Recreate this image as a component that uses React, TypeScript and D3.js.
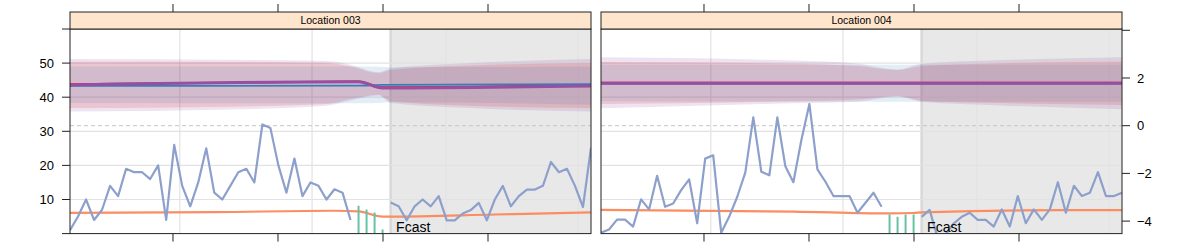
import React, { useRef, useEffect } from "react";
import * as d3 from "d3";

// ---- data ----
const panelNames = ["Location 003", "Location 004"];
const forecastStart = 40;
const lastIndex = 65;
const xTickIdx = [12.85, 25.95, 39.05, 52.15];
const xGridIdx = [13.7, 30.2, 46.9, 63.4];
const leftTicks = [0, 10, 20, 30, 40, 50, 60];
const leftLabels = [10, 20, 30, 40, 50];
const rightTicks = [-4, -2, 0, 2, 4];
const rightLabels = [-4, -2, 0, 2];
const refLine = 0;

const obs003 = [1, 5, 10, 4, 7, 14, 11, 19, 18, 18, 16, 20, 4, 26, 14, 8, 15, 25, 12, 10,
  14, 18, 19, 15, 32, 31, 20, 12, 22, 11, 15, 14, 10, 13, 12, 4,
  null, null, null, null,
  9.1, 8, 3.9, 8, 10, 8, 11, 3.9, 3.9, 5.9, 6.9, 9, 3.9, 10, 14, 8, 11, 12.9, 12.9, 14,
  21, 18, 19, 14, 7.8, 25.2];
const obs004 = [-4.49, -4.35, -3.94, -3.94, -4.23, -3.09, -3.51, -2.1, -3.4, -3.26,
  -2.7, -2.25, -4.09, -1.38, -1.24, -4.49, -3.81, -2.98, -1.97, 0.35,
  -1.93, -2.08, 0.35, -1.7, -2.37, -0.6, 0.91, -1.83, -2.35, -2.95,
  -2.95, -2.95, -3.65, -3.23, -2.81, -3.4,
  null, null, null, null,
  -3.82, -3.53, -4.7, -4.55, -4.1, -3.82, -3.65, -3.95, -3.95, -4.23,
  -3.51, -4.23, -2.95, -4.09, -3.51, -3.95, -3.51, -2.37, -3.65, -2.52,
  -2.95, -2.81, -1.95, -2.95, -2.95, -2.81];

const trend003 = [{ i: 0, v: 6.1 }, { i: 18, v: 6.3 }, { i: 33, v: 6.7 }, { i: 36, v: 6.5 },
  { i: 39, v: 5.0 }, { i: 40, v: 5.0 }, { i: 53, v: 5.6 }, { i: 65, v: 6.2 }];
const trend004 = [{ i: 0, v: -3.53 }, { i: 24, v: -3.6 }, { i: 36, v: -3.68 }, { i: 39, v: -3.66 },
  { i: 40, v: -3.63 }, { i: 57, v: -3.54 }, { i: 65, v: -3.54 }];

const bars003 = [{ i: 36, v: 8.2 }, { i: 37, v: 7.1 }, { i: 38, v: 6.2 }, { i: 39, v: 1.2 }];
const bars004 = [{ i: 36, v: -3.72 }, { i: 37, v: -3.82 }, { i: 38, v: -3.72 }, { i: 39, v: -3.72 }];

const purpleBand003 = [{ i: 0, lo: 35.8, hi: 51.2 }, { i: 20, lo: 36.4, hi: 51.0 }, { i: 32, lo: 37.5, hi: 50.6 },
  { i: 35, lo: 39.0, hi: 49.5 }, { i: 38.5, lo: 40.5, hi: 47.3 }, { i: 40, lo: 38.3, hi: 48.4 },
  { i: 50, lo: 36.8, hi: 50.0 }, { i: 65, lo: 35.8, hi: 51.2 }];
const redBand003 = [{ i: 0, lo: 36.8, hi: 50.4 }, { i: 20, lo: 37.2, hi: 50.3 }, { i: 32, lo: 38.0, hi: 50.0 },
  { i: 35, lo: 39.5, hi: 49.0 }, { i: 38.5, lo: 40.7, hi: 47.1 }, { i: 40, lo: 38.8, hi: 48.0 },
  { i: 50, lo: 37.5, hi: 49.3 }, { i: 65, lo: 36.8, hi: 50.0 }];
const blueBand003 = [{ i: 0, lo: 38.3, hi: 49.0 }, { i: 36, lo: 38.2, hi: 49.0 }, { i: 38.5, lo: 38.3, hi: 48.9 },
  { i: 40, lo: 38.5, hi: 48.8 }, { i: 65, lo: 37.8, hi: 48.9 }];
const purpleLine003 = [{ i: 0, v: 43.6 }, { i: 36, v: 44.5 }, { i: 39, v: 42.7 }, { i: 65, v: 43.3 }];
const redLine003 = [{ i: 0, v: 43.8 }, { i: 36, v: 44.6 }, { i: 39, v: 42.9 }, { i: 65, v: 43.5 }];
const blueLine003 = [{ i: 0, v: 43.3 }, { i: 36, v: 43.4 }, { i: 39, v: 43.6 }, { i: 65, v: 43.8 }];

const purpleBand004 = [{ i: 0, lo: 0.73, hi: 2.87 }, { i: 24, lo: 0.94, hi: 2.73 }, { i: 32, lo: 1.0, hi: 2.6 },
  { i: 37, lo: 1.22, hi: 2.36 }, { i: 40, lo: 1.0, hi: 2.6 }, { i: 50, lo: 0.85, hi: 2.75 }, { i: 65, lo: 0.69, hi: 2.87 }];
const redBand004 = [{ i: 0, lo: 0.91, hi: 2.67 }, { i: 24, lo: 1.02, hi: 2.6 }, { i: 32, lo: 1.1, hi: 2.5 },
  { i: 37, lo: 1.25, hi: 2.33 }, { i: 40, lo: 1.05, hi: 2.5 }, { i: 50, lo: 0.95, hi: 2.62 }, { i: 65, lo: 0.87, hi: 2.68 }];
const blueBand004 = [{ i: 0, lo: 1.02, hi: 2.55 }, { i: 37, lo: 1.0, hi: 2.55 }, { i: 65, lo: 1.0, hi: 2.56 }];
const purpleLine004 = [{ i: 0, v: 1.78 }, { i: 65, v: 1.78 }];
const redLine004 = [{ i: 0, v: 1.8 }, { i: 65, v: 1.8 }];
const blueLine004 = [{ i: 0, v: 1.77 }, { i: 65, v: 1.77 }];

const W = 1200;
const H = 245;
const panelX = [70, 601];
const panelW = 521;
const stripTop = 12;
const plotTop = 29;
const plotBottom = 233.6;
const FONT = "'Liberation Sans', Arial, Helvetica, sans-serif";

const App = () => {
  const chartRef = useRef<HTMLDivElement>(null);

  useEffect(() => {
    const yL = d3.scaleLinear().domain([0, 60]).range([plotBottom, plotTop]);
    const yR = d3.scaleLinear().domain([-4.524, 4.054]).range([plotBottom, plotTop]);

    // line order: red, blue, purple (purple on top)
    const panels = [
      { name: panelNames[0], y: yL, obs: obs003, trend: trend003, bars: bars003,
        bands: [purpleBand003, redBand003, blueBand003], lines: [redLine003, blueLine003, purpleLine003] },
      { name: panelNames[1], y: yR, obs: obs004, trend: trend004, bars: bars004,
        bands: [purpleBand004, redBand004, blueBand004], lines: [redLine004, blueLine004, purpleLine004] },
    ];
    const bandColors = ["#984EA3", "#E41A1C", "#377EB8"];
    const bandAlpha = [0.16, 0.15, 0.14];
    const lineColors = ["#E41A1C", "#377EB8", "#984EA3"];
    const lineWidths = [2, 1.8, 3];

    const svg = d3.create("svg")
      .attr("width", W)
      .attr("height", H)
      .attr("viewBox", [0, 0, W, H])
      .style("position", "absolute")
      .style("left", "0px")
      .style("top", "0px")
      .style("font-family", FONT);

    panels.forEach((p, k) => {
      const x0 = panelX[k];
      const x = d3.scaleLinear().domain([0, lastIndex]).range([x0, x0 + panelW]);
      const y = p.y;
      const clipId = `panel-clip-${k}`;

      svg.append("clipPath").attr("id", clipId)
        .append("rect")
        .attr("x", x0).attr("y", plotTop)
        .attr("width", panelW).attr("height", plotBottom - plotTop);

      const body = svg.append("g").attr("clip-path", `url(#${clipId})`);

      body.append("rect")
        .attr("x", x0).attr("y", plotTop)
        .attr("width", panelW).attr("height", plotBottom - plotTop)
        .attr("fill", "#fff");

      // forecast shading
      body.append("rect")
        .attr("x", x(forecastStart)).attr("y", plotTop)
        .attr("width", x(lastIndex) - x(forecastStart)).attr("height", plotBottom - plotTop)
        .attr("fill", "#e8e8e8");
      body.append("line")
        .attr("x1", x(forecastStart)).attr("x2", x(forecastStart))
        .attr("y1", plotTop).attr("y2", plotBottom)
        .attr("stroke", "#d8d8d8").attr("stroke-width", 2.5);

      // grid
      body.selectAll(".hgrid").data(leftLabels).join("line")
        .attr("x1", x0).attr("x2", x0 + panelW)
        .attr("y1", d => yL(d)).attr("y2", d => yL(d))
        .attr("stroke", "#e2e2e2").attr("stroke-width", 1.2);
      body.selectAll(".vgrid").data(xGridIdx).join("line")
        .attr("x1", d => x(d)).attr("x2", d => x(d))
        .attr("y1", plotTop).attr("y2", plotBottom)
        .attr("stroke", "#e2e2e2").attr("stroke-width", 1.2);

      body.append("line")
        .attr("x1", x0).attr("x2", x0 + panelW)
        .attr("y1", yR(refLine)).attr("y2", yR(refLine))
        .attr("stroke", "#c6c6c6").attr("stroke-dasharray", "4,3");

      // forecast bands
      const area = d3.area<any>()
        .x(d => x(d.i)).y0(d => y(d.lo)).y1(d => y(d.hi))
        .curve(d3.curveMonotoneX);
      p.bands.forEach((b, j) => {
        body.append("path").datum(b)
          .attr("fill", bandColors[j]).attr("fill-opacity", bandAlpha[j])
          .attr("d", area);
      });

      const line = d3.line<any>().x(d => x(d.i)).y(d => y(d.v)).curve(d3.curveMonotoneX);
      p.lines.forEach((l, j) => {
        body.append("path").datum(l)
          .attr("fill", "none")
          .attr("stroke", lineColors[j]).attr("stroke-width", lineWidths[j])
          .attr("d", line);
      });

      // trend
      body.append("path").datum(p.trend)
        .attr("fill", "none").attr("stroke", "#FC8D62").attr("stroke-width", 2.2)
        .attr("d", line);

      // observed
      const obsLine = d3.line<any>()
        .defined(d => d != null)
        .x((d, i) => x(i)).y(d => y(d));
      body.append("path").datum(p.obs)
        .attr("fill", "none").attr("stroke", "#8DA0CB").attr("stroke-width", 2.2)
        .attr("stroke-linejoin", "round")
        .attr("d", obsLine);

      body.selectAll(".bar").data(p.bars).join("line")
        .attr("x1", d => x(d.i)).attr("x2", d => x(d.i))
        .attr("y1", plotBottom).attr("y2", d => y(d.v))
        .attr("stroke", "#66C2A5").attr("stroke-width", 2);

      body.append("text")
        .attr("x", x(forecastStart) + 5.5)
        .attr("y", plotBottom - 2)
        .attr("font-size", 14)
        .attr("fill", "#000")
        .text("Fcast");

      // border
      svg.append("rect")
        .attr("x", x0).attr("y", plotTop)
        .attr("width", panelW).attr("height", plotBottom - plotTop)
        .attr("fill", "none").attr("stroke", "#222").attr("stroke-width", 1);

      // strip
      svg.append("rect")
        .attr("x", x0).attr("y", stripTop)
        .attr("width", panelW).attr("height", plotTop - stripTop)
        .attr("fill", "#FFE5CC").attr("stroke", "#222").attr("stroke-width", 1);
      svg.append("text")
        .attr("x", x0 + panelW / 2).attr("y", (stripTop + plotTop) / 2)
        .attr("dy", "0.36em")
        .attr("text-anchor", "middle")
        .attr("font-size", 10.5)
        .text(p.name);

      // x ticks top & bottom
      svg.selectAll(`.xt${k}`).data(xTickIdx).join("line")
        .attr("x1", d => x(d)).attr("x2", d => x(d))
        .attr("y1", stripTop).attr("y2", stripTop - 8)
        .attr("stroke", "#222");
      svg.selectAll(`.xb${k}`).data(xTickIdx).join("line")
        .attr("x1", d => x(d)).attr("x2", d => x(d))
        .attr("y1", plotBottom).attr("y2", plotBottom + 8)
        .attr("stroke", "#222");
    });

    // left axis
    const lx = panelX[0];
    svg.append("g").selectAll("line").data(leftTicks).join("line")
      .attr("x1", lx - 8).attr("x2", lx)
      .attr("y1", d => yL(d)).attr("y2", d => yL(d))
      .attr("stroke", "#222");
    svg.append("g").selectAll("text").data(leftLabels).join("text")
      .attr("x", lx - 16).attr("y", d => yL(d))
      .attr("dy", "0.36em")
      .attr("text-anchor", "end")
      .attr("font-size", 13)
      .text(d => d);

    // right axis
    const rx = panelX[1] + panelW;
    svg.append("g").selectAll("line").data(rightTicks).join("line")
      .attr("x1", rx).attr("x2", rx + 8)
      .attr("y1", d => yR(d)).attr("y2", d => yR(d))
      .attr("stroke", "#222");
    svg.append("g").selectAll("text").data(rightLabels).join("text")
      .attr("x", rx + 15).attr("y", d => yR(d))
      .attr("dy", "0.36em")
      .attr("text-anchor", "start")
      .attr("font-size", 13)
      .text(d => (d < 0 ? "\u2212" + Math.abs(d) : String(d)));

    chartRef.current!.innerHTML = "";
    chartRef.current!.appendChild(svg.node()!);
  }, []);

  return <div ref={chartRef} />;
};

export default App;
